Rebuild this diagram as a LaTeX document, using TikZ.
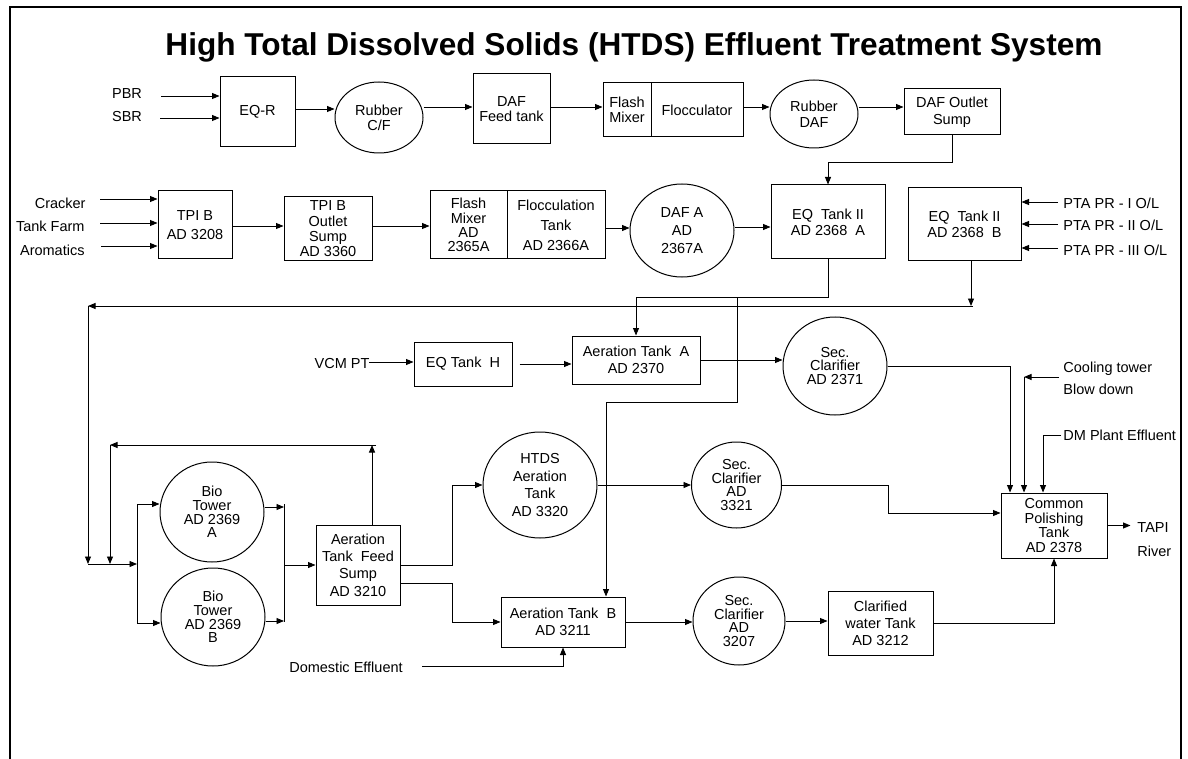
\documentclass[tikz,border=0pt]{standalone}
\usepackage{fontspec}
\setmainfont{Liberation Sans}
\usetikzlibrary{arrows.meta,shapes.geometric,calc}

\begin{document}
\begin{tikzpicture}[x=1pt,y=-1pt,
  line width=0.9pt,
  arr/.style={-{Triangle[length=7.5pt,width=6pt]}},
  txt/.style={font=\fontsize{14.5}{#1}\selectfont, align=center, inner sep=0pt},
  box/.style n args={3}{draw, rectangle, line width=1pt, minimum width=#1, minimum height=#2, txt=#3},
  tank/.style n args={3}{draw, ellipse, line width=1pt, minimum width=#1, minimum height=#2, txt=#3},
  lbl/.style={font=\fontsize{14.5}{16}\selectfont, inner sep=0pt},
]
\useasboundingbox (0,0) rectangle (1188,759);

% outer frame (open at the bottom)
\draw[line width=2pt] (9.5,759) -- (9.5,7.5) -- (1180.5,7.5) -- (1180.5,759);

% title
\node[font=\bfseries\fontsize{31.6}{36}\selectfont, anchor=base, inner sep=0pt] (title) at (634,56)
  {High Total Dissolved Solids (HTDS) Effluent Treatment System};

% ---------- rubber line ----------
\node[box={75}{70}{16}] (eqr) at (257.5,112) {EQ-R};
\node[tank={88}{71}{15}] (rcf) at (379,117.5) {Rubber\\C/F};
\node[box={77}{70}{15}] (daffeed) at (511.5,109) {DAF\\Feed tank};
\node[box={48}{54}{15}] (fm1) at (627,110) {Flash\\Mixer};
\node[box={92}{54}{15}] (floc1) at (697,110) {Flocculator};
\node[tank={88}{68}{16}] (rdaf) at (814,114) {Rubber\\DAF};
\node[box={96}{46}{17}] (dafout) at (952,112) {DAF Outlet\\Sump};

% ---------- TPI / DAF line ----------
\node[box={74}{68}{19}] (tpib) at (195,225) {TPI B\\AD 3208};
\node[box={88}{64}{15.3}] (tpis) at (328,229) {TPI B\\Outlet\\Sump\\AD 3360};
\node[box={77}{68}{14.3}] (fm2) at (468.5,225) {Flash\\Mixer\\AD\\2365A};
\node[box={98}{68}{20}] (floc2) at (556,225) {Flocculation\\Tank\\AD 2366A};
\node[tank={104}{93}{18}] (dafa) at (682,230.5) {DAF A\\AD\\2367A};
\node[box={114}{74}{16}] (eqa) at (828,222) {EQ~~Tank II\\AD 2368~~A};
\node[box={113}{73}{16}] (eqb) at (964.5,224.5) {EQ~~Tank II\\AD 2368~~B};

% ---------- aeration A line ----------
\node[box={98}{44}{16}] (eqh) at (463,364) {EQ Tank~~H};
\node[box={128}{48}{17}] (aera) at (636,360) {Aeration Tank~~A\\AD 2370};
\node[tank={104}{98}{13.5}] (sc2371) at (835,366) {Sec.\\Clarifier\\AD 2371};

% ---------- bio towers and HTDS aeration ----------
\node[tank={104}{100}{13.7}] (bioa) at (212,512) {Bio\\Tower\\AD 2369\\A};
\node[tank={104}{98}{13.7}] (biob) at (213,617) {Bio\\Tower\\AD 2369\\B};
\node[box={84}{80}{17.3}] (sump) at (358,565) {Aeration\\Tank~~Feed\\Sump\\AD 3210};
\node[tank={114}{106}{17.6}] (htds) at (540,485) {HTDS\\Aeration\\Tank\\AD 3320};
\node[tank={90}{86}{13.6}] (sc3321) at (736.5,485) {Sec.\\Clarifier\\AD\\3321};
\node[box={106}{65}{14.5}] (polish) at (1054,525.5) {Common\\Polishing\\Tank\\AD 2378};
\node[box={124}{50}{17}] (aerb) at (563,622) {Aeration Tank~~B\\AD 3211};
\node[tank={92}{88}{13.7}] (sc3207) at (739,621) {Sec.\\Clarifier\\AD\\3207};
\node[box={105}{64}{17}] (clarw) at (880.5,623) {Clarified\\water Tank\\AD 3212};

% ---------- stream labels ----------
\node[lbl, anchor=base] (pbr) at (127,99) {PBR};
\node[lbl, anchor=base] (sbr) at (127,122) {SBR};
\node[lbl, anchor=base east] (cracker) at (86,209) {Cracker};
\node[lbl, anchor=base east] (tankfarm) at (85,232) {Tank Farm};
\node[lbl, anchor=base east] (aromatics) at (85,255) {Aromatics};
\node[lbl, anchor=base west] (pta1) at (1063,209) {PTA PR - I O/L};
\node[lbl, anchor=base west] (pta2) at (1063,231) {PTA PR - II O/L};
\node[lbl, anchor=base west] (pta3) at (1063,255) {PTA PR - III O/L};
\node[lbl, anchor=base] (vcm) at (342,368) {VCM PT};
\node[lbl, anchor=base] (dom) at (346,672) {Domestic Effluent};
\node[lbl, anchor=base west] (cool) at (1063,372) {Cooling tower};
\node[lbl, anchor=base west] (blow) at (1063,394) {Blow down};
\node[lbl, anchor=base west] (dm) at (1063,440) {DM Plant Effluent};
\node[lbl, anchor=base west] (tapi) at (1137,532) {TAPI};
\node[lbl, anchor=base west] (river) at (1137,556) {River};

% free ends of the incoming streams
\coordinate (i1) at (161,96);
\coordinate (i2) at (160,118);
\coordinate (i3) at (100,199);
\coordinate (i4) at (100,223);
\coordinate (i5) at (101,246);
\coordinate (i6) at (1058,202);
\coordinate (i7) at (1058,224);
\coordinate (i8) at (1058,248);
\coordinate (i9) at (369,362);
\coordinate (i10) at (422,666);
\coordinate (i11) at (1059,377);
\coordinate (ct) at (1024,377);
\coordinate (i12) at (1061,435);

% routing points
\coordinate (r0) at (973,306);
\coordinate (rL) at (88,306);
\coordinate (jl) at (88,564);
\coordinate (jm) at (110,564);
\coordinate (jr) at (137,564);
\coordinate (l0) at (376,445);
\coordinate (lL) at (110,445);
\coordinate (sa) at (137,504);
\coordinate (sb) at (137,623);
\coordinate (ma) at (284,504);
\coordinate (mb) at (284,622);
\coordinate (mm) at (284,565);
\coordinate (j1) at (737,297);
\coordinate (k1) at (737,402);
\coordinate (k2) at (606,402);
\coordinate (p1) at (888,513);
\coordinate (s1) at (452,565);
\coordinate (s2) at (452,583);
\coordinate (d1) at (952,162);

% ---------- connectors: rubber line ----------
\draw[arr] (i1) -- (i1 -| eqr.west);
\draw[arr] (i2) -- (i2 -| eqr.west);
\draw[arr] (eqr.east |- 0,109) -- (rcf.west |- 0,109);
\draw[arr] (rcf.east |- 0,107) -- (daffeed.west |- 0,107);
\draw[arr] (daffeed.east |- 0,107) -- (fm1.west |- 0,107);
\draw[arr] (floc1.east |- 0,107) -- (rdaf.west |- 0,107);
\draw[arr] (rdaf.east |- 0,107) -- (dafout.west |- 0,107);
\draw[arr] (dafout.south) -- (d1) -| (eqa.north);

% ---------- connectors: TPI / DAF line ----------
\draw[arr] (i3) -- (i3 -| tpib.west);
\draw[arr] (i4) -- (i4 -| tpib.west);
\draw[arr] (i5) -- (i5 -| tpib.west);
\draw[arr] (tpib.east |- 0,226) -- (tpis.west |- 0,226);
\draw[arr] (tpis.east |- 0,226) -- (fm2.west |- 0,226);
\draw[arr] (floc2.east |- 0,228) -- (dafa.west |- 0,228);
\draw[arr] (dafa.east |- 0,227) -- (eqa.west |- 0,227);
\draw[arr] (i6) -- (i6 -| eqb.east);
\draw[arr] (i7) -- (i7 -| eqb.east);
\draw[arr] (i8) -- (i8 -| eqb.east);

% ---------- connectors: distribution ----------
\draw[arr] ([xshift=6.5pt]eqb.south) -- ([xshift=6.5pt]eqb.south |- r0);
\draw[arr] (r0) -- (rL);
\draw[arr] (rL) -- (jl);
\draw[arr] (jl) -- (jr);
\draw[arr] (eqa.south) -- ++(0,38) -| (aera.north);
\draw[arr] (j1) -- (k1) -- (k2) -- (k2 |- aerb.north);

% ---------- connectors: aeration A ----------
\draw[arr] (i9) -- (i9 -| eqh.west);
\draw[arr] ([xshift=7pt]eqh.east) -- (eqh.east -| aera.west);
\draw[arr] (aera.east) -- (aera.east -| sc2371.west);
\draw[arr] (sc2371.east) -| ([xshift=-44pt]polish.north);
\draw[arr] (i11) -- (ct);
\draw[arr] (ct) -- (ct |- polish.north);
\draw[arr] (i12) -| ([xshift=-11pt]polish.north);

% ---------- connectors: bio towers ----------
\draw (sa) -- (sb);
\draw[arr] (sa) -- (sa -| bioa.west);
\draw[arr] (sb) -- (sb -| biob.west);
\draw (ma) -- (mb);
\draw[arr] (bioa.east |- 0,507) -- (ma |- 0,507);
\draw[arr] (biob.east |- 0,621) -- (mb |- 0,621);
\draw[arr] (mm) -- (sump.west);
\draw[arr] ([xshift=14pt]sump.north) -- ([xshift=14pt]sump.north |- l0);
\draw[arr] (l0) -- (lL);
\draw[arr] (lL) -- (jm);

% ---------- connectors: HTDS and aeration B ----------
\draw[arr] (sump.east |- s1) -- (s1) |- (htds.west);
\draw[arr] (sump.east |- s2) -- (s2) |- (aerb.west);
\draw[arr] (i10) -| (aerb.south);
\draw[arr] (htds.east) -- (sc3321.west);
\draw[arr] (sc3321.east) -| (p1) -- (p1 -| polish.west);
\draw[arr] (aerb.east) -- (aerb.east -| sc3207.west);
\draw[arr] (sc3207.east) -- (sc3207.east -| clarw.west);
\draw[arr] (clarw.east) -| (polish.south);
\draw[arr] (polish.east) -- ++(23,0);

\end{tikzpicture}
\end{document}
